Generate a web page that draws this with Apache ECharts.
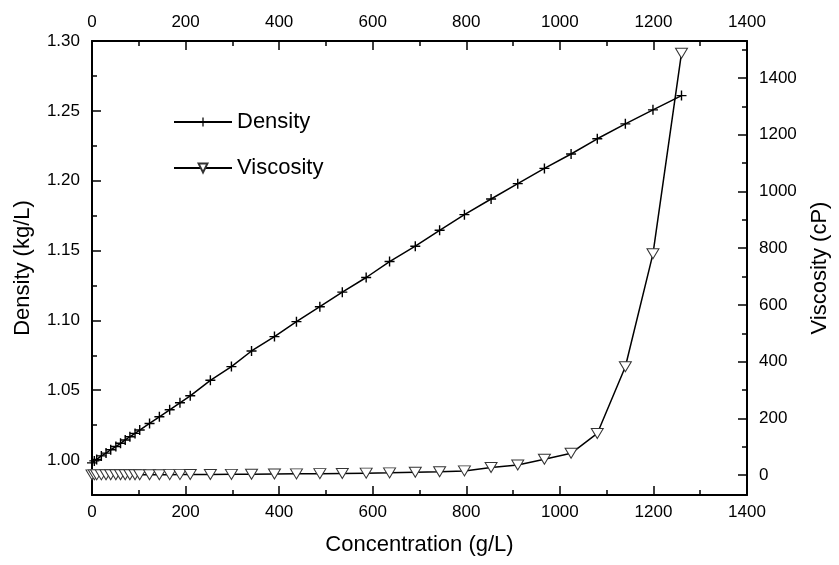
<!DOCTYPE html>
<html>
<head>
<meta charset="utf-8">
<script src="https://cdn.jsdelivr.net/npm/echarts@6/dist/echarts.min.js"></script>
<style>
  html, body { margin: 0; padding: 0; background: #fff; }
  #main { width: 839px; height: 565px; }
</style>
</head>
<body>
<div id="main"></div>
<script>
// concentration (g/L) shared by both series
var concentration = [0, 5, 10, 20, 30, 40, 51, 61, 71, 81, 92, 102,
  123, 144, 166, 188, 210,
  253, 298, 341, 390, 437, 487, 535, 586, 636, 691,
  743, 796, 853, 910, 967, 1024, 1080, 1140, 1199, 1260]
// density (kg/L)
var density = [0.998, 0.9994, 1.0005, 1.003, 1.005, 1.0074, 1.0097, 1.012, 1.0144, 1.0167, 1.0191, 1.0215,
  1.0262, 1.031, 1.036, 1.041, 1.046,
  1.0571, 1.0669, 1.0781, 1.0884, 1.0991, 1.1098, 1.1202, 1.1307, 1.1421, 1.1531,
  1.1645, 1.1757, 1.1869, 1.1979, 1.2088, 1.2191, 1.23, 1.2407, 1.2507, 1.2609]
// viscosity (cP)
var viscosity = [1.0, 1.0, 1.0, 1.0, 1.1, 1.1, 1.2, 1.2, 1.3, 1.3, 1.4, 1.4,
  1.5, 1.6, 1.7, 1.9, 2.0,
  2.3, 2.7, 3.3, 4.0, 4.5, 5.2, 6, 7, 8, 10,
  12, 15, 27, 36, 56, 77, 147, 382, 780, 1487]

// axis ranges / ticks
var xRange = [0, 1400]
var xStep = 200
var densityRange = [0.975, 1.30]
var viscosityRange = [-70, 1530]

var font = 'Liberation Sans, Arial, Helvetica, sans-serif'
var plusPath = 'path://M4.3,0H5.7V4.3H10V5.7H5.7V10H4.3V5.7H0V4.3H4.3Z'

function plain (v) { return String(v) }

function xAxisOf (pos, withName) {
  return {
    type: 'value',
    position: pos,
    min: xRange[0],
    max: xRange[1],
    interval: xStep,
    name: withName ? 'Concentration (g/L)' : '',
    nameLocation: 'middle',
    nameGap: 39,
    nameTextStyle: { color: '#000', fontSize: 22, fontFamily: font },
    axisLine: { show: true, onZero: false, lineStyle: { color: '#000', width: 2 } },
    axisTick: { show: true, inside: true, length: 9, lineStyle: { color: '#000', width: 1.5 } },
    minorTick: { show: true, splitNumber: 2, length: 5, lineStyle: { color: '#000', width: 1.5 } },
    axisLabel: { color: '#000', fontSize: 17, fontFamily: font, margin: pos === 'top' ? 10 : 9, formatter: plain },
    splitLine: { show: false }
  }
}

var chart = echarts.init(document.getElementById('main'))
chart.setOption({
  backgroundColor: '#fff',
  animation: false,
  grid: { left: 92, right: 91, top: 41, bottom: 70, containLabel: false },
  legend: {
    orient: 'vertical',
    left: 168,
    top: 106,
    itemWidth: 58,
    itemHeight: 11,
    itemGap: 24,
    textStyle: { color: '#000', fontSize: 22, fontFamily: font },
    data: ['Density', 'Viscosity']
  },
  xAxis: [xAxisOf('bottom', true), xAxisOf('top', false)],
  yAxis: [
    {
      type: 'value',
      position: 'left',
      min: densityRange[0],
      max: densityRange[1],
      splitNumber: 6,
      name: 'Density (kg/L)',
      nameLocation: 'middle',
      nameGap: 58,
      nameTextStyle: { color: '#000', fontSize: 22, fontFamily: font },
      axisLine: { show: true, onZero: false, lineStyle: { color: '#000', width: 2 } },
      axisTick: { show: true, inside: true, length: 9, lineStyle: { color: '#000', width: 1.5 } },
      minorTick: { show: true, splitNumber: 2, length: 5, lineStyle: { color: '#000', width: 1.5 } },
      axisLabel: {
        color: '#000', fontSize: 17, fontFamily: font, margin: 12,
        showMinLabel: false, showMaxLabel: true,
        formatter: function (v) { return v.toFixed(2) }
      },
      splitLine: { show: false }
    },
    {
      type: 'value',
      position: 'right',
      min: viscosityRange[0],
      max: viscosityRange[1],
      splitNumber: 8,
      name: 'Viscosity (cP)',
      nameLocation: 'middle',
      nameGap: 62,
      nameTextStyle: { color: '#000', fontSize: 22, fontFamily: font },
      axisLine: { show: true, onZero: false, lineStyle: { color: '#000', width: 2 } },
      axisTick: { show: true, inside: true, length: 9, lineStyle: { color: '#000', width: 1.5 } },
      minorTick: { show: true, splitNumber: 2, length: 5, lineStyle: { color: '#000', width: 1.5 } },
      axisLabel: {
        color: '#000', fontSize: 17, fontFamily: font, margin: 12,
        showMinLabel: false, showMaxLabel: false, formatter: plain
      },
      splitLine: { show: false }
    }
  ],
  series: [
    {
      name: 'Density',
      type: 'line',
      xAxisIndex: 0,
      yAxisIndex: 0,
      data: concentration.map(function (c, i) { return [c, density[i]] }),
      symbol: plusPath,
      symbolSize: 10,
      showAllSymbol: true,
      lineStyle: { color: '#000', width: 1.5 },
      itemStyle: { color: '#000', borderWidth: 0 }
    },
    {
      name: 'Viscosity',
      type: 'line',
      xAxisIndex: 0,
      yAxisIndex: 1,
      data: concentration.map(function (c, i) { return [c, viscosity[i]] }),
      symbol: 'triangle',
      symbolRotate: 180,
      symbolSize: [12, 10],
      showAllSymbol: true,
      lineStyle: { color: '#000', width: 1.5 },
      itemStyle: { color: '#fff', borderColor: '#333', borderWidth: 1 },
      z: 3
    }
  ]
})
</script>
</body>
</html>
